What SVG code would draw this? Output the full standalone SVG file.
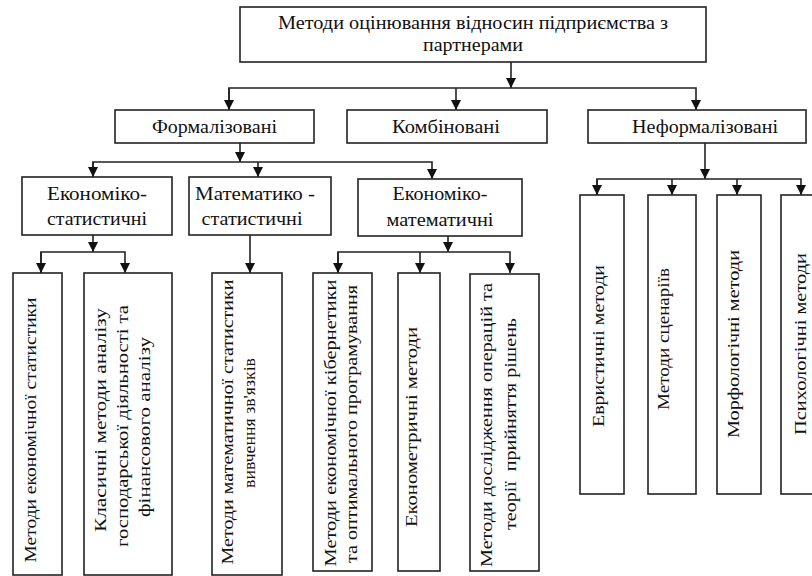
<svg xmlns="http://www.w3.org/2000/svg" width="812" height="576" viewBox="0 0 812 576">
<style>
.box{fill:#fff;stroke:#222;stroke-width:1.6}
.ln{fill:none;stroke:#222;stroke-width:1.6}
text{font-family:"Liberation Serif","Times New Roman",serif;fill:#111;text-anchor:middle;white-space:pre}
.h{font-size:18px}
.v{font-size:17px}
</style>
<defs>
<marker id="ah" markerWidth="10" markerHeight="10" viewBox="0 0 10 10" refX="10" refY="5" orient="auto" markerUnits="userSpaceOnUse">
<path d="M0,0 L10,5 L0,10 Z" fill="#111"/>
</marker>
</defs>
<rect width="812" height="576" fill="#fff"/>
<g id="connectors">
<line class="ln" x1="511" y1="62" x2="511" y2="88" marker-end="url(#ah)"/>
<polyline class="ln" points="229,110 229,88 696,88 696,110" marker-end="url(#ah)"/>
<path class="ln" d="M229,88 V110" marker-end="url(#ah)"/>
<path class="ln" d="M456,88 V110" marker-end="url(#ah)"/>
<line class="ln" x1="240" y1="143" x2="240" y2="162" marker-end="url(#ah)"/>
<polyline class="ln" points="93,177 93,162 432,162 432,179" marker-end="url(#ah)"/>
<path class="ln" d="M93,162 V177" marker-end="url(#ah)"/>
<path class="ln" d="M258,162 V177" marker-end="url(#ah)"/>
<line class="ln" x1="705" y1="143" x2="705" y2="179" marker-end="url(#ah)"/>
<polyline class="ln" points="597,195 597,179 801,179 801,195" marker-end="url(#ah)"/>
<path class="ln" d="M597,179 V195" marker-end="url(#ah)"/>
<path class="ln" d="M672,179 V195" marker-end="url(#ah)"/>
<path class="ln" d="M737,179 V195" marker-end="url(#ah)"/>
<line class="ln" x1="93" y1="235" x2="93" y2="252" marker-end="url(#ah)"/>
<polyline class="ln" points="41,273 41,252 125,252 125,273" marker-end="url(#ah)"/>
<path class="ln" d="M41,252 V273" marker-end="url(#ah)"/>
<line class="ln" x1="250" y1="235" x2="250" y2="273" marker-end="url(#ah)"/>
<line class="ln" x1="448" y1="236" x2="448" y2="252" marker-end="url(#ah)"/>
<polyline class="ln" points="338,273 338,252 510,252 510,273" marker-end="url(#ah)"/>
<path class="ln" d="M338,252 V273" marker-end="url(#ah)"/>
<path class="ln" d="M420,252 V273" marker-end="url(#ah)"/>
</g>
<g id="root">
<rect class="box" x="240" y="7" width="466" height="55"/>
<text class="h" x="473" y="29" textLength="390" lengthAdjust="spacingAndGlyphs">Методи оцінювання відносин підприємства з</text>
<text class="h" x="473" y="51" textLength="100" lengthAdjust="spacingAndGlyphs">партнерами</text>
</g>
<g id="formal">
<rect class="box" x="115" y="110" width="199" height="33"/>
<text class="h" x="214.5" y="133" textLength="125" lengthAdjust="spacingAndGlyphs">Формалізовані</text>
</g>
<g id="combined">
<rect class="box" x="347" y="110" width="200" height="33"/>
<text class="h" x="446" y="133" textLength="108" lengthAdjust="spacingAndGlyphs">Комбіновані</text>
</g>
<g id="informal">
<rect class="box" x="588" y="110" width="218" height="33"/>
<text class="h" x="705" y="133" textLength="146" lengthAdjust="spacingAndGlyphs">Неформалізовані</text>
</g>
<g id="econ-stat">
<rect class="box" x="22" y="177" width="150" height="58"/>
<text class="h" x="97" y="200" textLength="100" lengthAdjust="spacingAndGlyphs">Економіко-</text>
<text class="h" x="97" y="225" textLength="100" lengthAdjust="spacingAndGlyphs">статистичні</text>
</g>
<g id="math-stat">
<rect class="box" x="189" y="177" width="142" height="58"/>
<text class="h" x="255" y="200" textLength="120" lengthAdjust="spacingAndGlyphs">Математико -</text>
<text class="h" x="252" y="225" textLength="101" lengthAdjust="spacingAndGlyphs">статистичні</text>
</g>
<g id="econ-math">
<rect class="box" x="358" y="179" width="164" height="57"/>
<text class="h" x="440" y="200" textLength="95" lengthAdjust="spacingAndGlyphs">Економіко-</text>
<text class="h" x="440" y="226" textLength="107" lengthAdjust="spacingAndGlyphs">математичні</text>
</g>
<g id="m-econ-stat">
<rect class="box" x="13" y="273" width="49" height="302"/>
<text class="v" transform="translate(36,430) rotate(-90)" textLength="265" lengthAdjust="spacingAndGlyphs">Методи економічної статистики</text>
</g>
<g id="m-classic">
<rect class="box" x="84" y="273" width="88" height="302"/>
<text class="v" transform="translate(106,420) rotate(-90)" textLength="224" lengthAdjust="spacingAndGlyphs">Класичні методи аналізу</text>
<text class="v" transform="translate(128,426) rotate(-90)" textLength="242" lengthAdjust="spacingAndGlyphs">господарської діяльності та</text>
<text class="v" transform="translate(150,427) rotate(-90)" textLength="180" lengthAdjust="spacingAndGlyphs">фінансового аналізу</text>
</g>
<g id="m-math-stat">
<rect class="box" x="212" y="273" width="70" height="302"/>
<text class="v" transform="translate(233,422) rotate(-90)" textLength="285" lengthAdjust="spacingAndGlyphs">Методи математичної статистики</text>
<text class="v" transform="translate(255,423) rotate(-90)" textLength="130" lengthAdjust="spacingAndGlyphs">вивчення зв'язків</text>
</g>
<g id="m-cyber">
<rect class="box" x="313" y="273" width="59" height="298"/>
<text class="v" transform="translate(336,423) rotate(-90)" textLength="287" lengthAdjust="spacingAndGlyphs">Методи економічної кібернетики</text>
<text class="v" transform="translate(357,424) rotate(-90)" textLength="278" lengthAdjust="spacingAndGlyphs">та оптимального програмування</text>
</g>
<g id="m-econometric">
<rect class="box" x="398" y="273" width="42" height="298"/>
<text class="v" transform="translate(417,427) rotate(-90)" textLength="200" lengthAdjust="spacingAndGlyphs">Економетричні методи</text>
</g>
<g id="m-operations">
<rect class="box" x="470" y="274" width="69" height="297"/>
<text class="v" transform="translate(492,425) rotate(-90)" textLength="284" lengthAdjust="spacingAndGlyphs">Методи дослідження операцій та</text>
<text class="v" transform="translate(516,424) rotate(-90)" textLength="212" lengthAdjust="spacingAndGlyphs">теорії  прийняття рішень</text>
</g>
<g id="m-heuristic">
<rect class="box" x="580" y="195" width="44" height="299"/>
<text class="v" transform="translate(604,346) rotate(-90)" textLength="162" lengthAdjust="spacingAndGlyphs">Евристичні методи</text>
</g>
<g id="m-scenario">
<rect class="box" x="648" y="195" width="48" height="299"/>
<text class="v" transform="translate(669,339) rotate(-90)" textLength="142" lengthAdjust="spacingAndGlyphs">Методи сценаріїв</text>
</g>
<g id="m-morph">
<rect class="box" x="717" y="195" width="44" height="299"/>
<text class="v" transform="translate(739,344) rotate(-90)" textLength="188" lengthAdjust="spacingAndGlyphs">Морфологічні методи</text>
</g>
<g id="m-psych">
<rect class="box" x="781" y="195" width="45" height="299"/>
<text class="v" transform="translate(806,344) rotate(-90)" textLength="182" lengthAdjust="spacingAndGlyphs">Психологічні методи</text>
</g>
</svg>
